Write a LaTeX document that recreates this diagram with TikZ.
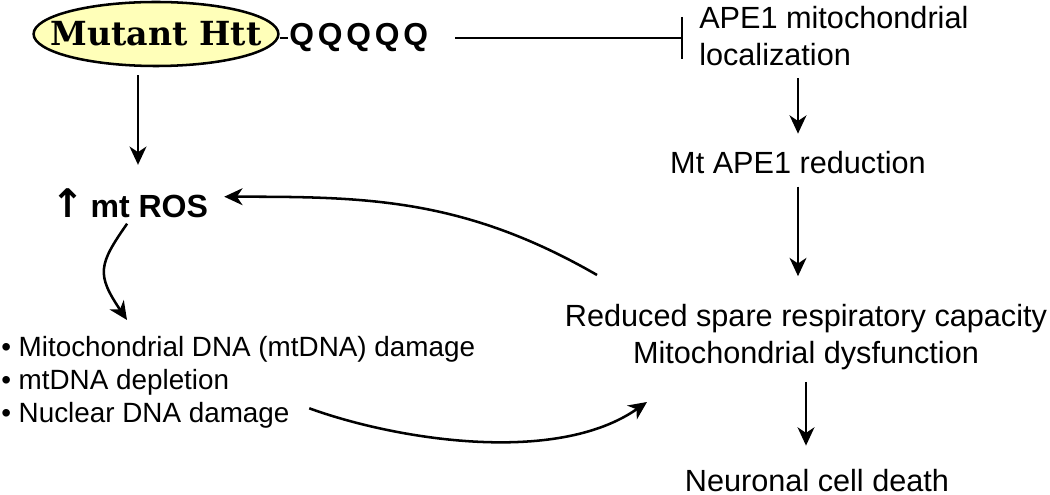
\documentclass[tikz,border=0pt]{standalone}
\usepackage{fontspec}
\setmainfont{Liberation Sans}
\newfontfamily\slabfont{DejaVu Serif}
\newfontfamily\symbfont{DejaVu Sans}
\usepackage{tikz}
\usetikzlibrary{arrows.meta,shapes.geometric}
\definecolor{httyellow}{RGB}{255,255,185}

\begin{document}
\begin{tikzpicture}[x=0.125mm, y=0.125mm, line width=0.9pt,
    arr/.style={-{Stealth[length=6.5pt,width=6pt,inset=2pt]}},
    inhibit/.style={-{Bar[width=15pt]}},
    txt/.style={inner sep=0pt, font=\fontsize{10.9}{13}\selectfont},
    item/.style={inner sep=0pt, font=\fontsize{9.9}{12}\selectfont},
    htt/.style={ellipse, draw, fill=httyellow, inner sep=0pt, minimum width=30.6mm, minimum height=8mm, font=\slabfont\bfseries\fontsize{11.8}{13}\selectfont}]
                \useasboundingbox (0,0) rectangle (1050,495);

                % Top row
                \node[htt] (htt) at (156,461) {\makebox[0pt]{Mutant Htt}};
                \node[inner sep=0pt, anchor=west, font=\bfseries\fontsize{11.3}{13}\selectfont\addfontfeature{LetterSpace=12}] (polyq) at (288,457) {QQQQQ};
                \node[txt, anchor=west, align=left] (ape) at (698,458.7) {APE1 mitochondrial\\localization};

                % Right column
                \node[txt, anchor=base] (red) at (798,321) {Mt APE1 reduction};
                \node[txt, align=center] (dys) at (806,158) {Reduced spare respiratory capacity\\Mitochondrial dysfunction};
                \node[txt, anchor=base] (death) at (817,4) {Neuronal cell death};

                % Left column
                \node[inner sep=0pt, anchor=base, font=\bfseries\fontsize{11.4}{13}\selectfont] (ros) at (130,277) {{\symbfont\fontsize{14}{14}\selectfont↑}\hspace{2pt}mt ROS};
                \foreach \t [count=\i] in {Mitochondrial DNA (mtDNA) damage, mtDNA depletion, Nuclear DNA damage}{
                    \node[item, anchor=base west] (l\i) at (0,{171-33*\i}) {• \t};
                }

                \coordinate (rosin) at ([xshift=1mm]ros.north);
                \coordinate (rosdown) at (127,175);
                \coordinate (dysin) at (647,93);
                \coordinate (dysout) at (597,220);

                % Connectors
                \draw (polyq.west) -- (polyq.west -| htt.east);
                \draw[inhibit, shorten <=9.2pt, shorten >=5.3pt] (polyq.east) -- (polyq.east -| ape.west);
                \draw[arr, shorten <=3.9pt, shorten >=6pt] (red.north |- ape.south) -- (red.north);
                \draw[arr, shorten <=3.9pt, shorten >=9.6pt] (red.south) -- (red.south |- dys.north);
                \draw[arr, shorten <=3.9pt, shorten >=7.8pt] (dys.south) -- (dys.south |- death.north);
                \draw[arr, shorten <=2.8pt, shorten >=8.2pt] (rosin |- htt.south) -- (rosin);
                \draw[arr, shorten >=5.3pt] (dysout) to[out=150, in=0] ([yshift=2.5pt]ros.east);
                \draw[arr, shorten <=1.8pt] (ros.south) to[out=235, in=124, looseness=1.4] (rosdown);
                \draw[arr, shorten <=7pt] (l3.north east) to[out=-20, in=215, looseness=0.8] (dysin);
            \end{tikzpicture}
\end{document}
